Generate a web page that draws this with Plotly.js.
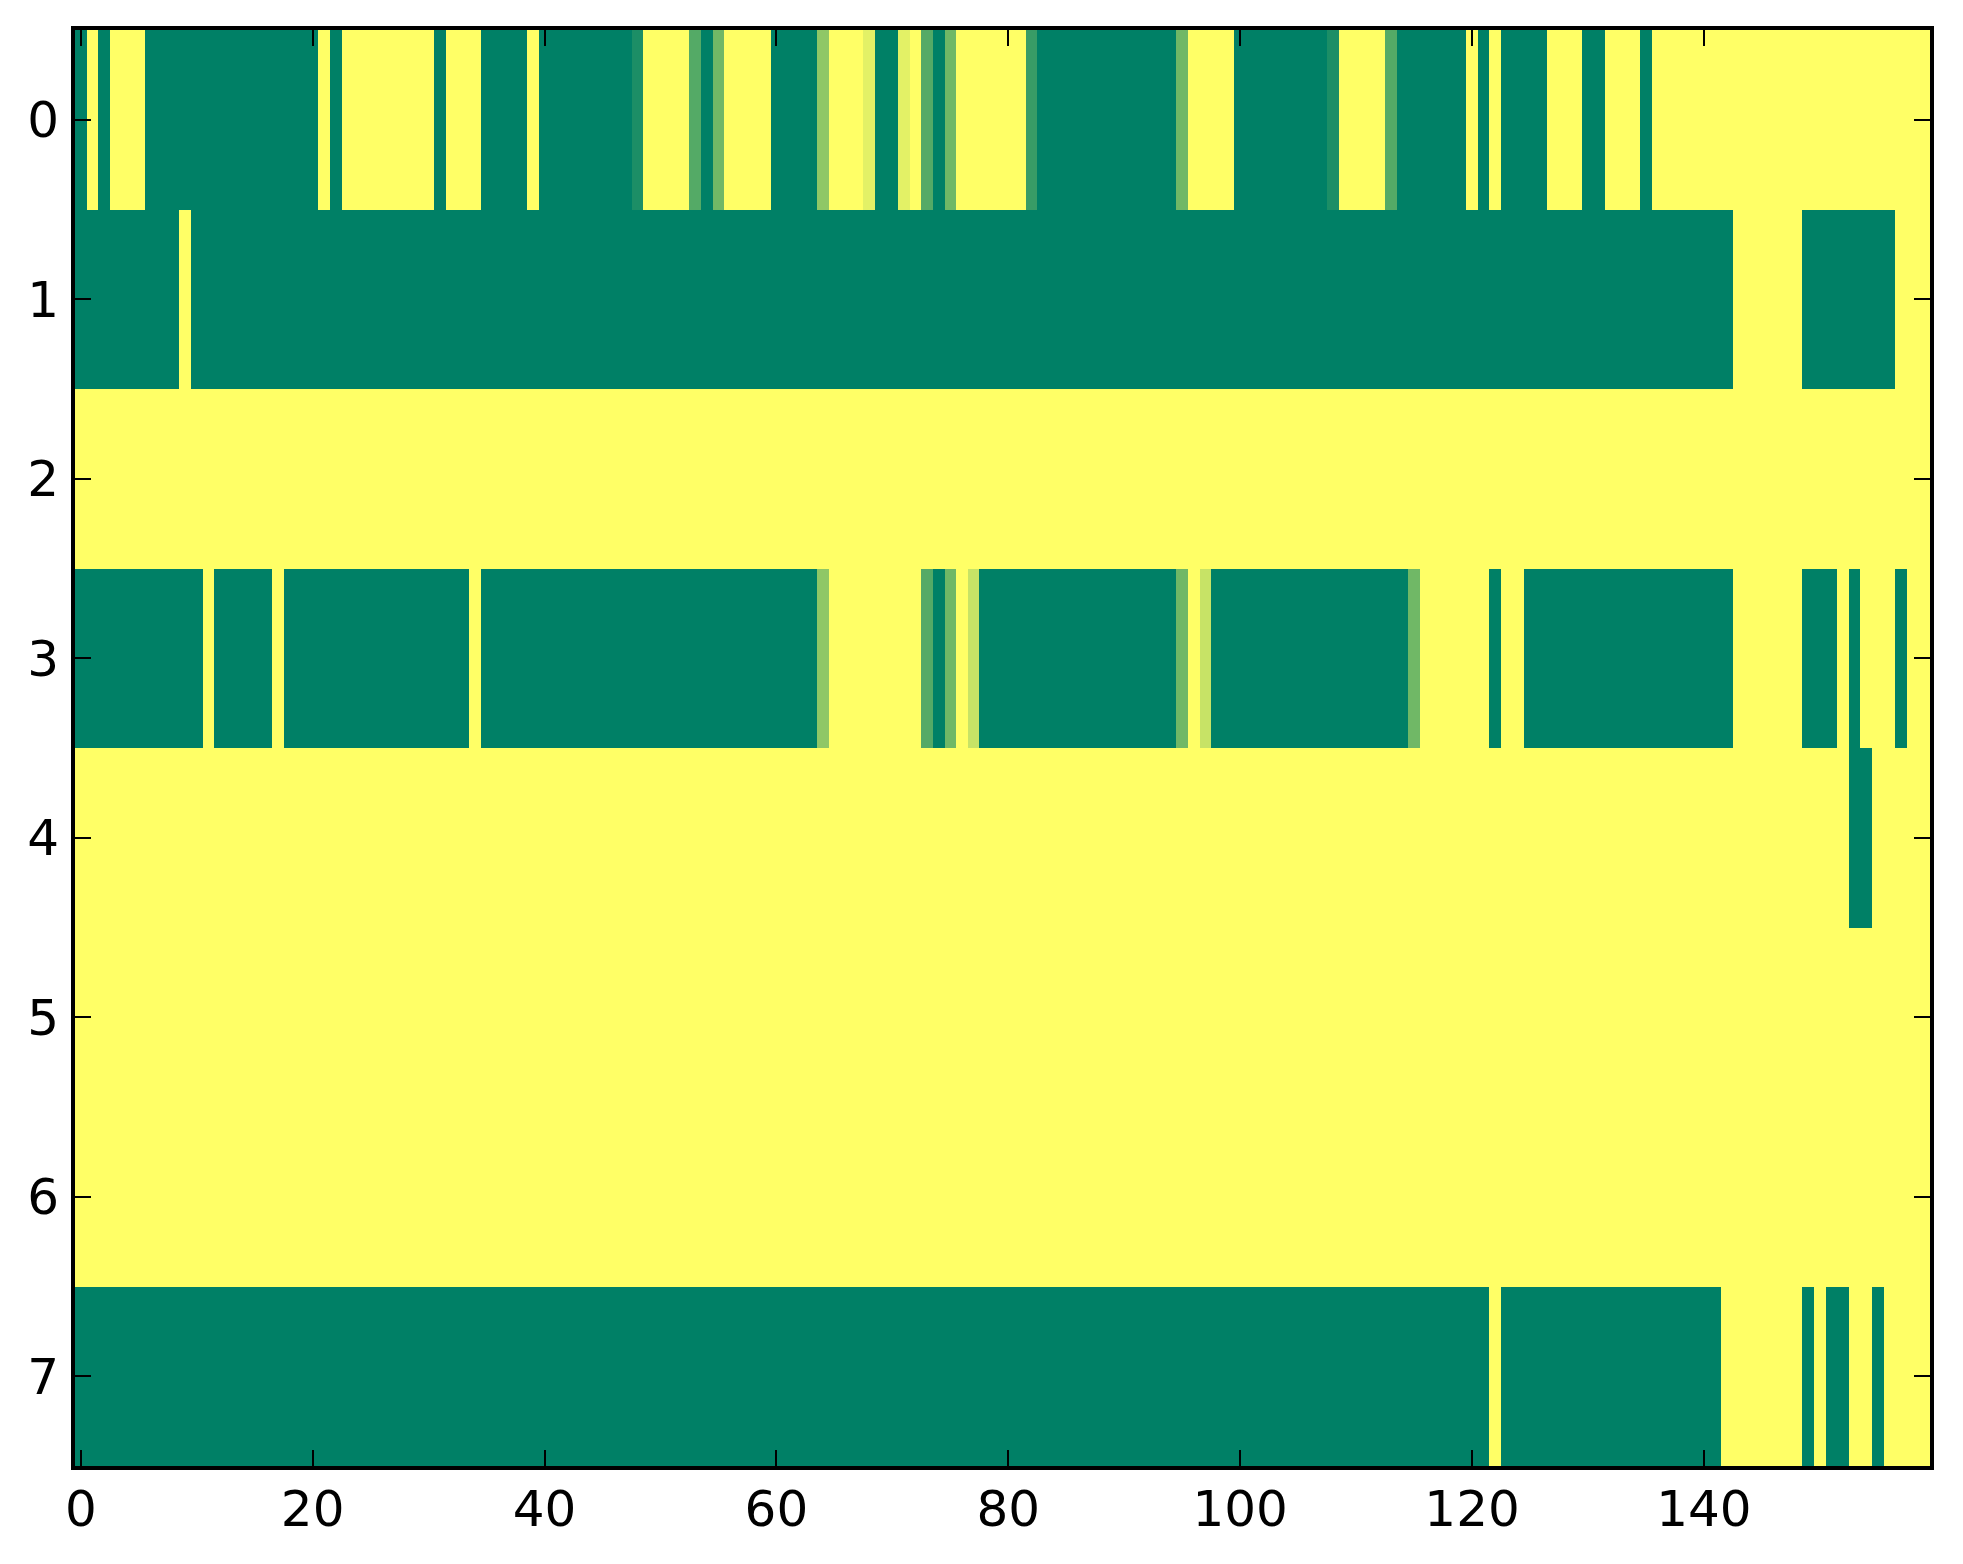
<!DOCTYPE html>
<html>
<head>
<meta charset="utf-8">
<script src="https://cdn.plot.ly/plotly-3.0.1.min.js"></script>
<style>
  html, body { margin: 0; padding: 0; background: #ffffff; }
  #chart { width: 1963px; height: 1564px; }
</style>
</head>
<body>
<div id="chart"></div>
<script>
// ------------------------------------------------------------------------------
// DATA  (one array per row, 160 columns each, values 0..1)

const row0 = [
    0, 1, 0, 1, 1, 1, 0, 0, 0, 0, 0, 0, 0, 0, 0, 0, 0, 0, 0, 0,
    0, 1, 0, 1, 1, 1, 1, 1, 1, 1, 1, 0, 1, 1, 1, 0, 0, 0, 0, 1,
    0, 0, 0, 0, 0, 0, 0, 0, 0.11, 1, 1, 1, 1, 0.33, 0, 0.44, 1, 1, 1, 1,
    0, 0, 0, 0, 0.56, 1, 1, 1, 0.89, 0, 0, 0.89, 1, 0.33, 0, 0.44, 1, 1, 1, 1,
    1, 1, 0.22, 0, 0, 0, 0, 0, 0, 0, 0, 0, 0, 0, 0, 0.44, 1, 1, 1, 1,
    0, 0, 0, 0, 0, 0, 0, 0, 0.11, 1, 1, 1, 1, 0.33, 0, 0, 0, 0, 0, 0,
    1, 0, 1, 0, 0, 0, 0, 1, 1, 1, 0, 0, 1, 1, 1, 0, 1, 1, 1, 1,
    1, 1, 1, 1, 1, 1, 1, 1, 1, 1, 1, 1, 1, 1, 1, 1, 1, 1, 1, 1
];

const row1 = [
    0, 0, 0, 0, 0, 0, 0, 0, 0, 1, 0, 0, 0, 0, 0, 0, 0, 0, 0, 0,
    0, 0, 0, 0, 0, 0, 0, 0, 0, 0, 0, 0, 0, 0, 0, 0, 0, 0, 0, 0,
    0, 0, 0, 0, 0, 0, 0, 0, 0, 0, 0, 0, 0, 0, 0, 0, 0, 0, 0, 0,
    0, 0, 0, 0, 0, 0, 0, 0, 0, 0, 0, 0, 0, 0, 0, 0, 0, 0, 0, 0,
    0, 0, 0, 0, 0, 0, 0, 0, 0, 0, 0, 0, 0, 0, 0, 0, 0, 0, 0, 0,
    0, 0, 0, 0, 0, 0, 0, 0, 0, 0, 0, 0, 0, 0, 0, 0, 0, 0, 0, 0,
    0, 0, 0, 0, 0, 0, 0, 0, 0, 0, 0, 0, 0, 0, 0, 0, 0, 0, 0, 0,
    0, 0, 0, 1, 1, 1, 1, 1, 1, 0, 0, 0, 0, 0, 0, 0, 0, 1, 1, 1
];

const row2 = [
    1, 1, 1, 1, 1, 1, 1, 1, 1, 1, 1, 1, 1, 1, 1, 1, 1, 1, 1, 1,
    1, 1, 1, 1, 1, 1, 1, 1, 1, 1, 1, 1, 1, 1, 1, 1, 1, 1, 1, 1,
    1, 1, 1, 1, 1, 1, 1, 1, 1, 1, 1, 1, 1, 1, 1, 1, 1, 1, 1, 1,
    1, 1, 1, 1, 1, 1, 1, 1, 1, 1, 1, 1, 1, 1, 1, 1, 1, 1, 1, 1,
    1, 1, 1, 1, 1, 1, 1, 1, 1, 1, 1, 1, 1, 1, 1, 1, 1, 1, 1, 1,
    1, 1, 1, 1, 1, 1, 1, 1, 1, 1, 1, 1, 1, 1, 1, 1, 1, 1, 1, 1,
    1, 1, 1, 1, 1, 1, 1, 1, 1, 1, 1, 1, 1, 1, 1, 1, 1, 1, 1, 1,
    1, 1, 1, 1, 1, 1, 1, 1, 1, 1, 1, 1, 1, 1, 1, 1, 1, 1, 1, 1
];

const row3 = [
    0, 0, 0, 0, 0, 0, 0, 0, 0, 0, 0, 1, 0, 0, 0, 0, 0, 1, 0, 0,
    0, 0, 0, 0, 0, 0, 0, 0, 0, 0, 0, 0, 0, 0, 1, 0, 0, 0, 0, 0,
    0, 0, 0, 0, 0, 0, 0, 0, 0, 0, 0, 0, 0, 0, 0, 0, 0, 0, 0, 0,
    0, 0, 0, 0, 0.56, 1, 1, 1, 1, 1, 1, 1, 1, 0.33, 0, 0.44, 1, 0.78, 0, 0,
    0, 0, 0, 0, 0, 0, 0, 0, 0, 0, 0, 0, 0, 0, 0, 0.44, 1, 0.78, 0, 0,
    0, 0, 0, 0, 0, 0, 0, 0, 0, 0, 0, 0, 0, 0, 0, 0.44, 1, 1, 1, 1,
    1, 1, 0, 1, 1, 0, 0, 0, 0, 0, 0, 0, 0, 0, 0, 0, 0, 0, 0, 0,
    0, 0, 0, 1, 1, 1, 1, 1, 1, 0, 0, 0, 1, 0, 1, 1, 1, 0, 1, 1
];

const row4 = [
    1, 1, 1, 1, 1, 1, 1, 1, 1, 1, 1, 1, 1, 1, 1, 1, 1, 1, 1, 1,
    1, 1, 1, 1, 1, 1, 1, 1, 1, 1, 1, 1, 1, 1, 1, 1, 1, 1, 1, 1,
    1, 1, 1, 1, 1, 1, 1, 1, 1, 1, 1, 1, 1, 1, 1, 1, 1, 1, 1, 1,
    1, 1, 1, 1, 1, 1, 1, 1, 1, 1, 1, 1, 1, 1, 1, 1, 1, 1, 1, 1,
    1, 1, 1, 1, 1, 1, 1, 1, 1, 1, 1, 1, 1, 1, 1, 1, 1, 1, 1, 1,
    1, 1, 1, 1, 1, 1, 1, 1, 1, 1, 1, 1, 1, 1, 1, 1, 1, 1, 1, 1,
    1, 1, 1, 1, 1, 1, 1, 1, 1, 1, 1, 1, 1, 1, 1, 1, 1, 1, 1, 1,
    1, 1, 1, 1, 1, 1, 1, 1, 1, 1, 1, 1, 1, 0, 0, 1, 1, 1, 1, 1
];

const row5 = [
    1, 1, 1, 1, 1, 1, 1, 1, 1, 1, 1, 1, 1, 1, 1, 1, 1, 1, 1, 1,
    1, 1, 1, 1, 1, 1, 1, 1, 1, 1, 1, 1, 1, 1, 1, 1, 1, 1, 1, 1,
    1, 1, 1, 1, 1, 1, 1, 1, 1, 1, 1, 1, 1, 1, 1, 1, 1, 1, 1, 1,
    1, 1, 1, 1, 1, 1, 1, 1, 1, 1, 1, 1, 1, 1, 1, 1, 1, 1, 1, 1,
    1, 1, 1, 1, 1, 1, 1, 1, 1, 1, 1, 1, 1, 1, 1, 1, 1, 1, 1, 1,
    1, 1, 1, 1, 1, 1, 1, 1, 1, 1, 1, 1, 1, 1, 1, 1, 1, 1, 1, 1,
    1, 1, 1, 1, 1, 1, 1, 1, 1, 1, 1, 1, 1, 1, 1, 1, 1, 1, 1, 1,
    1, 1, 1, 1, 1, 1, 1, 1, 1, 1, 1, 1, 1, 1, 1, 1, 1, 1, 1, 1
];

const row6 = [
    1, 1, 1, 1, 1, 1, 1, 1, 1, 1, 1, 1, 1, 1, 1, 1, 1, 1, 1, 1,
    1, 1, 1, 1, 1, 1, 1, 1, 1, 1, 1, 1, 1, 1, 1, 1, 1, 1, 1, 1,
    1, 1, 1, 1, 1, 1, 1, 1, 1, 1, 1, 1, 1, 1, 1, 1, 1, 1, 1, 1,
    1, 1, 1, 1, 1, 1, 1, 1, 1, 1, 1, 1, 1, 1, 1, 1, 1, 1, 1, 1,
    1, 1, 1, 1, 1, 1, 1, 1, 1, 1, 1, 1, 1, 1, 1, 1, 1, 1, 1, 1,
    1, 1, 1, 1, 1, 1, 1, 1, 1, 1, 1, 1, 1, 1, 1, 1, 1, 1, 1, 1,
    1, 1, 1, 1, 1, 1, 1, 1, 1, 1, 1, 1, 1, 1, 1, 1, 1, 1, 1, 1,
    1, 1, 1, 1, 1, 1, 1, 1, 1, 1, 1, 1, 1, 1, 1, 1, 1, 1, 1, 1
];

const row7 = [
    0, 0, 0, 0, 0, 0, 0, 0, 0, 0, 0, 0, 0, 0, 0, 0, 0, 0, 0, 0,
    0, 0, 0, 0, 0, 0, 0, 0, 0, 0, 0, 0, 0, 0, 0, 0, 0, 0, 0, 0,
    0, 0, 0, 0, 0, 0, 0, 0, 0, 0, 0, 0, 0, 0, 0, 0, 0, 0, 0, 0,
    0, 0, 0, 0, 0, 0, 0, 0, 0, 0, 0, 0, 0, 0, 0, 0, 0, 0, 0, 0,
    0, 0, 0, 0, 0, 0, 0, 0, 0, 0, 0, 0, 0, 0, 0, 0, 0, 0, 0, 0,
    0, 0, 0, 0, 0, 0, 0, 0, 0, 0, 0, 0, 0, 0, 0, 0, 0, 0, 0, 0,
    0, 0, 1, 0, 0, 0, 0, 0, 0, 0, 0, 0, 0, 0, 0, 0, 0, 0, 0, 0,
    0, 0, 1, 1, 1, 1, 1, 1, 1, 0, 1, 0, 0, 1, 1, 0, 1, 1, 1, 1
];

const rows = [row0, row1, row2, row3, row4, row5, row6, row7];


// ------------------------------------------------------------------------------
// STYLE

const font_family = '"DejaVu Sans", Arial, sans-serif';

// matplotlib "summer": green -> yellow, linear in every channel
const summer = [
    [0.0, 'rgb(0,128,102)'],
    [1.0, 'rgb(255,255,102)']
];

const trace = {
    type: 'heatmap',
    z: rows,
    colorscale: summer,
    zmin: 0,
    zmax: 1,
    showscale: false,
    hoverinfo: 'none'
};

const axis_common = {
    showgrid: false,
    zeroline: false,
    showline: true,
    linecolor: '#000000',
    linewidth: 4,
    mirror: 'ticks',
    ticks: 'inside',
    ticklen: 16,
    tickwidth: 2,
    tickcolor: '#000000',
    tickfont: {
        family: font_family,
        size: 50,
        color: '#000000'
    }
};

const layout = {
    width: 1963,
    height: 1564,
    paper_bgcolor: '#ffffff',
    plot_bgcolor: '#ffffff',
    margin: {
        l: 75,
        r: 33,
        t: 30,
        b: 98
    },
    xaxis: Object.assign({}, axis_common, {
        range: [-0.5, 159.5],
        tickmode: 'linear',
        tick0: 0,
        dtick: 20,
        ticklabelstandoff: -4
    }),
    yaxis: Object.assign({}, axis_common, {
        range: [7.5, -0.5],
        tickmode: 'linear',
        tick0: 0,
        dtick: 1,
        ticklabelstandoff: 2
    })
};

Plotly.newPlot('chart', [trace], layout, {displayModeBar: false, staticPlot: true});
</script>
</body>
</html>
